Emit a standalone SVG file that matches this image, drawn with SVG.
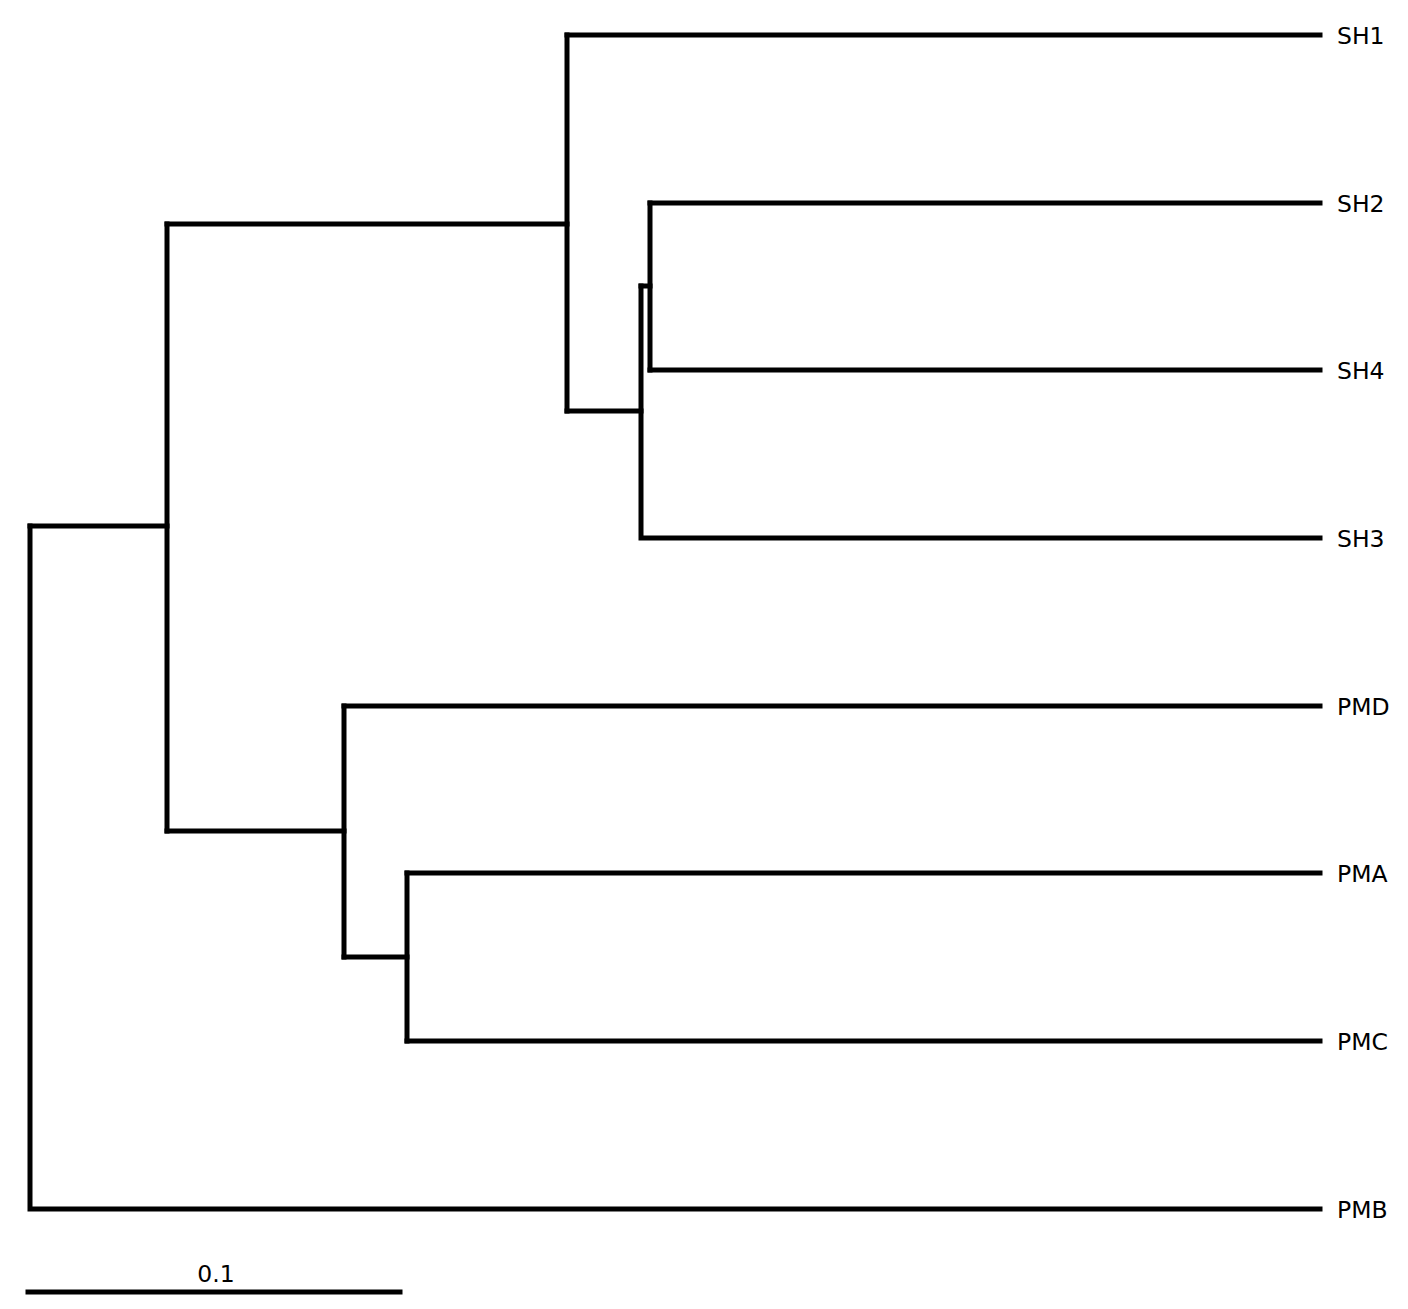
<svg xmlns="http://www.w3.org/2000/svg" width="1408" height="1309" viewBox="0 0 1408 1309">
<style>
.e{fill:none;stroke:#000;stroke-width:5;stroke-linecap:square;stroke-linejoin:miter}
.l{font-family:"DejaVu Sans",sans-serif;font-size:23.5px;fill:#000}
</style>
<rect width="1408" height="1309" fill="#fff"/>
<g id="connectors">
<path class="e" d="M30,526 V1209 H1320"/>
<path class="e" d="M30,526 H167"/>
<path class="e" d="M167,224 V831"/>
<path class="e" d="M167,224 H567"/>
<path class="e" d="M567,35 V411"/>
<path class="e" d="M567,35 H1320"/>
<path class="e" d="M567,411 H641"/>
<path class="e" d="M641,286 V538 H1320"/>
<path class="e" d="M641,286 H650"/>
<path class="e" d="M650,203 V370"/>
<path class="e" d="M650,203 H1320"/>
<path class="e" d="M650,370 H1320"/>
<path class="e" d="M167,831 H344"/>
<path class="e" d="M344,706 V957"/>
<path class="e" d="M344,706 H1320"/>
<path class="e" d="M344,957 H407"/>
<path class="e" d="M407,873 V1041"/>
<path class="e" d="M407,873 H1320"/>
<path class="e" d="M407,1041 H1320"/>
<path class="e" d="M28,1292 H400"/>
</g>
<g id="SH1"><text class="l" x="1337" y="44">SH1</text></g>
<g id="SH2"><text class="l" x="1337" y="212">SH2</text></g>
<g id="SH4"><text class="l" x="1337" y="379">SH4</text></g>
<g id="SH3"><text class="l" x="1337" y="547">SH3</text></g>
<g id="PMD"><text class="l" x="1337" y="715">PMD</text></g>
<g id="PMA"><text class="l" x="1337" y="882">PMA</text></g>
<g id="PMC"><text class="l" x="1337" y="1050">PMC</text></g>
<g id="PMB"><text class="l" x="1337" y="1218">PMB</text></g>
<g id="scale"><text class="l" x="216" y="1282" text-anchor="middle">0.1</text></g>
</svg>
